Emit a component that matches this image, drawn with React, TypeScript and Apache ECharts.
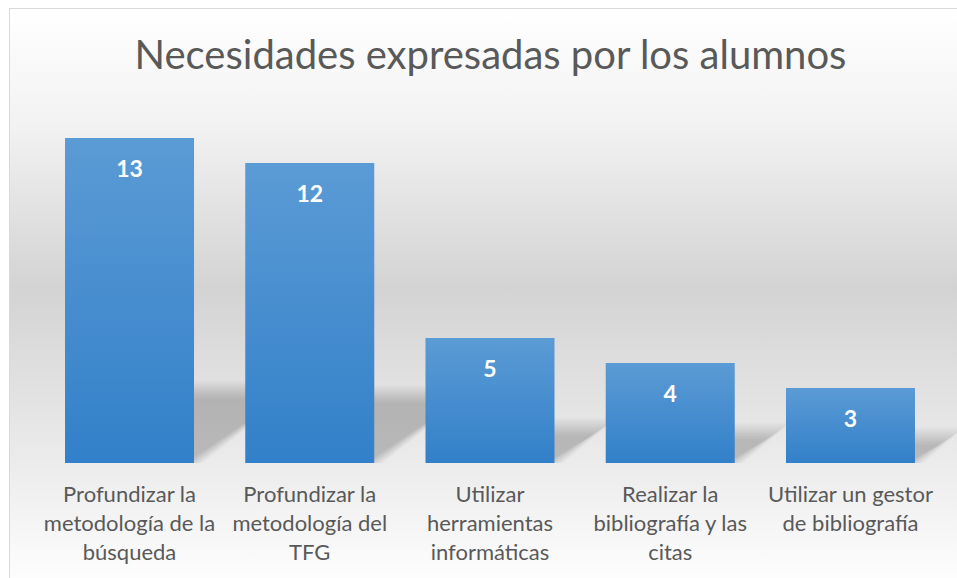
import React, { useEffect, useRef } from "react";
import * as echarts from "echarts";

const titleText = "Necesidades expresadas por los alumnos";
const categories = [
  "Profundizar la\nmetodología de la\nbúsqueda",
  "Profundizar la\nmetodología del\nTFG",
  "Utilizar\nherramientas\ninformáticas",
  "Realizar la\nbibliografía y las\ncitas",
  "Utilizar un gestor\nde bibliografía",
];
const values = [13, 12, 5, 4, 3];

const FONT = "Lato, 'Open Sans', sans-serif";
const BAR_WIDTH = 129;

export default function App() {
  const ref = useRef<HTMLDivElement>(null);

  useEffect(() => {
    if (!ref.current) return;
    const chart = echarts.init(ref.current, null, { renderer: "svg" });

    const shadowData = values.map((v, i) => [i, v]);

    chart.setOption({
      animation: false,
      backgroundColor: new echarts.graphic.LinearGradient(0, 0, 0, 1, [
        { offset: 0, color: "#ffffff" },
        { offset: 0.2, color: "#f2f2f2" },
        { offset: 0.48, color: "#d3d3d3" },
        { offset: 0.8, color: "#ededed" },
        { offset: 0.98, color: "#fdfdfd" },
        { offset: 1, color: "#ffffff" },
      ]),
      title: {
        text: titleText,
        left: "center",
        top: 20,
        textStyle: {
          fontFamily: FONT,
          fontSize: 40,
          fontWeight: "normal",
          color: "#595959",
        },
      },
      grid: { left: 29.4, right: 30.4, top: 104, bottom: 126, containLabel: false },
      xAxis: {
        type: "category",
        data: categories,
        axisLine: { show: false },
        axisTick: { show: false },
        splitLine: { show: false },
        axisLabel: {
          interval: 0,
          margin: 16,
          fontFamily: FONT,
          fontSize: 22,
          lineHeight: 29,
          color: "#595959",
        },
      },
      yAxis: {
        type: "value",
        min: 0,
        max: 14,
        show: false,
        splitLine: { show: false },
      },
      series: [
        {
          type: "custom",
          z: 1,
          silent: true,
          data: shadowData,
          renderItem: (params: any, api: any) => {
            const idx = api.value(0);
            const val = api.value(1);
            const top = api.coord([idx, val]);
            const base = api.coord([idx, 0]);
            const half = BAR_WIDTH / 2;
            const xl = base[0] - half;
            const xr = base[0] + half;
            const h = base[1] - top[1];
            const sh = 13 + 0.185 * h;
            const skew = sh / 0.73;
            const by = base[1];
            const children: any[] = [];
            const steps = 13;
            for (let k = 0; k < steps; k++) {
              const e = -9 + k * 1.5;
              const t = Math.max(sh + e, 2);
              const sk = skew + e * 0.4;
              children.push({
                type: "polygon",
                shape: {
                  points: [
                    [xl, by],
                    [xr + e, by],
                    [xr + e + sk, by - t],
                    [xl + sk, by - t],
                  ],
                },
                style: { fill: "rgba(0,0,0,0.017)" },
              });
            }
            return { type: "group", children };
          },
        },
        {
          type: "bar",
          z: 2,
          data: values,
          barWidth: BAR_WIDTH,
          itemStyle: {
            color: new echarts.graphic.LinearGradient(0, 0, 0, 1, [
              { offset: 0, color: "#5b9bd5" },
              { offset: 1, color: "#3280c9" },
            ]),
          },
          label: {
            show: true,
            position: "insideTop",
            distance: 18,
            fontFamily: FONT,
            fontSize: 23,
            fontWeight: "bold",
            color: "#ffffff",
          },
        },
      ],
    });

    return () => chart.dispose();
  }, []);

  return (
    <div
      style={{
        position: "fixed",
        left: 0,
        top: 0,
        width: 957,
        height: 578,
        overflow: "hidden",
        background: "#ffffff",
      }}
    >
      <div
        style={{
          position: "absolute",
          left: 9,
          top: 8,
          width: 980,
          height: 600,
          borderTop: "1px solid #d9d9d9",
          borderLeft: "1px solid #d9d9d9",
          boxSizing: "border-box",
        }}
      />
      <div
        ref={ref}
        style={{ position: "absolute", left: 10, top: 9, width: 961, height: 580 }}
      />
    </div>
  );
}
